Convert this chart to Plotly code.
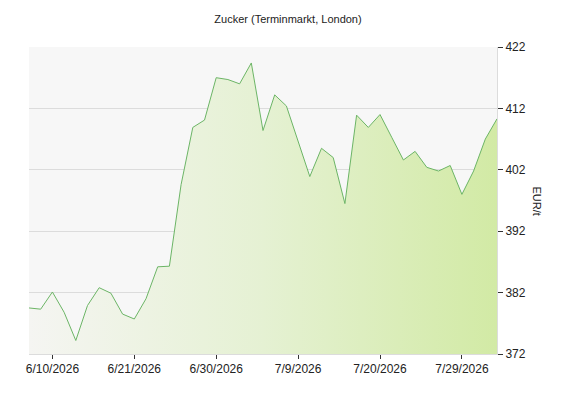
import plotly.graph_objects as go

# Schlusskurse, ein Punkt pro Handelstag
prices = [
    379.5, 379.3, 382.1, 378.8, 374.2, 379.9, 382.8, 381.9, 378.5, 377.7,
    381.0, 386.2, 386.3, 399.6, 408.9, 410.1, 417.0, 416.7, 416.0, 419.4,
    408.4, 414.2, 412.4, 406.6, 400.9, 405.5, 404.0, 396.5, 410.9, 408.9,
    411.0, 407.3, 403.6, 405.0, 402.4, 401.8, 402.7, 398.0, 401.8, 407.0,
    410.3,
]
days = list(range(len(prices)))

tick_pos = [2, 9, 16, 23, 30, 37]
tick_labels = ["6/10/2026", "6/21/2026", "6/30/2026", "7/9/2026", "7/20/2026", "7/29/2026"]
y_ticks = [372, 382, 392, 402, 412, 422]

fig = go.Figure()
fig.add_trace(
    go.Scatter(
        x=days,
        y=prices,
        mode="lines",
        line=dict(color="#6cb566", width=1),
        fill="tozeroy",
        fillgradient=dict(
            type="horizontal",
            colorscale=[[0, "#f5f5f2"], [0.5, "#e5f1d3"], [1, "#d2eaa5"]],
        ),
        hoverinfo="skip",
    )
)

fig.update_layout(
    width=576,
    height=400,
    margin=dict(l=29, r=79, t=47, b=46),
    paper_bgcolor="white",
    plot_bgcolor="#f7f7f7",
    showlegend=False,
    font=dict(family="Liberation Sans, Arial, sans-serif", size=12, color="#222222"),
    title=dict(
        text="Zucker (Terminmarkt, London)",
        x=0.5,
        xanchor="center",
        y=0.953,
        yanchor="middle",
        font=dict(size=11, color="#222222"),
    ),
    annotations=[
        dict(
            text="EUR/t",
            textangle=90,
            x=1 + (545 - 497) / 468,
            y=0.5,
            xref="paper",
            yref="paper",
            showarrow=False,
            font=dict(size=11),
        )
    ],
)

fig.update_xaxes(
    range=[0, 40],
    tickvals=tick_pos,
    ticktext=tick_labels,
    ticks="outside",
    ticklen=4,
    tickcolor="#333333",
    showgrid=False,
    zeroline=False,
    showline=True,
    linecolor="#dcdcdc",
)
fig.update_yaxes(
    side="right",
    range=[372, 422],
    tickvals=y_ticks,
    ticks="outside",
    ticklen=5,
    tickcolor="#333333",
    showgrid=True,
    gridcolor="#dcdcdc",
    zeroline=False,
    showline=True,
    linecolor="#dcdcdc",
)

# Seitenrand des Browsers entfernen, damit das Diagramm bei 0,0 beginnt
fig.write_html(
    "out.html",
    config={"displayModeBar": False},
    post_script="document.body.style.margin='0';",
)
